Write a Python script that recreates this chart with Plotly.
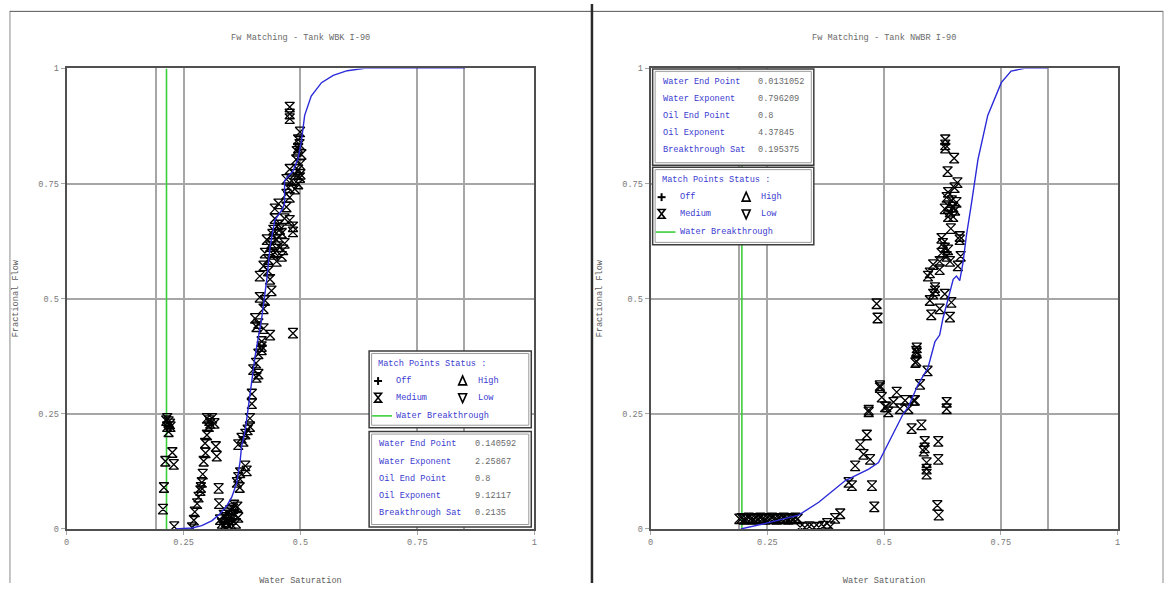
import plotly.graph_objects as go

W, H = 1168, 589

# ---------------- data: Tank WBK I-90 (left) ----------------
wbk_pts_sw = [0.215, 0.218, 0.215, 0.222, 0.218, 0.226, 0.211, 0.229, 0.208, 0.206, 0.230, 0.213, 0.221,
              0.268, 0.272, 0.274, 0.279, 0.282, 0.286, 0.289, 0.291, 0.293, 0.296, 0.300, 0.304, 0.300, 0.311,
              0.316, 0.307, 0.319, 0.321, 0.325, 0.326, 0.305, 0.297, 0.287,
              0.328, 0.332, 0.335, 0.338, 0.341, 0.344, 0.347, 0.350, 0.353, 0.356, 0.359, 0.362, 0.365, 0.367,
              0.340, 0.345, 0.352, 0.358, 0.336, 0.349,
              0.364, 0.367, 0.371, 0.382, 0.385, 0.367, 0.374, 0.382, 0.387, 0.392, 0.392, 0.396, 0.396, 0.406,
              0.399, 0.410, 0.417, 0.370, 0.378,
              0.477, 0.477, 0.477, 0.499, 0.495, 0.495, 0.502, 0.491, 0.499, 0.477, 0.488, 0.499, 0.470, 0.481,
              0.495, 0.474, 0.488, 0.470, 0.477, 0.453, 0.445, 0.470, 0.466, 0.477, 0.484, 0.484, 0.445, 0.453,
              0.442, 0.460, 0.428, 0.449, 0.466, 0.435, 0.453, 0.463, 0.424, 0.442, 0.460, 0.431, 0.449, 0.421,
              0.431, 0.413, 0.435, 0.438, 0.413, 0.424, 0.421, 0.403, 0.410, 0.406, 0.421, 0.435, 0.417, 0.417,
              0.484, 0.495, 0.500, 0.492, 0.498, 0.440, 0.456, 0.438, 0.445, 0.410, 0.405]
wbk_pts_fw = [0.240, 0.233, 0.222, 0.222, 0.211, 0.166, 0.147, 0.140, 0.090, 0.043, 0.005, 0.235, 0.228,
              0.003, 0.019, 0.037, 0.055, 0.069, 0.083, 0.101, 0.119, 0.147, 0.186, 0.204, 0.222, 0.240, 0.240,
              0.229, 0.229, 0.179, 0.158, 0.088, 0.055, 0.235, 0.165, 0.090,
              0.020, 0.012, 0.005, 0.025, 0.015, 0.035, 0.006, 0.040, 0.020, 0.044, 0.030, 0.012, 0.048, 0.025,
              0.003, 0.022, 0.010, 0.052, 0.030, 0.030,
              0.101, 0.112, 0.122, 0.137, 0.126, 0.183, 0.197, 0.206, 0.215, 0.222, 0.240, 0.272, 0.293, 0.329,
              0.346, 0.336, 0.389, 0.090, 0.190,
              0.916, 0.901, 0.891, 0.862, 0.845, 0.827, 0.813, 0.802, 0.791, 0.781, 0.770, 0.763, 0.759, 0.756,
              0.749, 0.741, 0.738, 0.727, 0.720, 0.706, 0.695, 0.699, 0.674, 0.670, 0.656, 0.645, 0.674, 0.660,
              0.649, 0.642, 0.628, 0.628, 0.620, 0.613, 0.613, 0.606, 0.599, 0.596, 0.592, 0.585, 0.581, 0.571,
              0.560, 0.549, 0.542, 0.517, 0.503, 0.496, 0.478, 0.457, 0.446, 0.439, 0.435, 0.421, 0.407, 0.396,
              0.425, 0.780, 0.770, 0.820, 0.835, 0.640, 0.650, 0.620, 0.600, 0.380, 0.360]
wbk_curve_sw = [0.233, 0.268, 0.289, 0.311, 0.328, 0.343, 0.353, 0.364, 0.371, 0.374, 0.382, 0.389, 0.396,
                0.403, 0.417, 0.428, 0.435, 0.445, 0.460, 0.466, 0.466, 0.466, 0.474, 0.484, 0.495, 0.502,
                0.509, 0.523, 0.545, 0.570, 0.600, 0.637, 0.852]
wbk_curve_fw = [0.000, 0.002, 0.007, 0.018, 0.033, 0.051, 0.069, 0.101, 0.147, 0.179, 0.215, 0.265, 0.314,
                0.375, 0.457, 0.542, 0.613, 0.670, 0.692, 0.706, 0.734, 0.756, 0.766, 0.777, 0.805, 0.842,
                0.898, 0.940, 0.969, 0.985, 0.995, 1.000, 1.000]
wbk_breakthrough = 0.2135
wbk_params = [("Water End Point", "0.140592"), ("Water Exponent", "2.25867"), ("Oil End Point", "0.8"),
              ("Oil Exponent", "9.12117"), ("Breakthrough Sat", "0.2135")]

# ---------------- data: Tank NWBR I-90 (right) ----------------
nwbr_pts_sw = [0.190, 0.195, 0.200, 0.205, 0.210, 0.215, 0.220, 0.225, 0.230, 0.235, 0.240, 0.245, 0.250,
               0.255, 0.260, 0.265, 0.270, 0.275, 0.280, 0.285, 0.290, 0.295, 0.300, 0.305, 0.310, 0.315,
               0.320, 0.330, 0.340, 0.350, 0.360, 0.370, 0.378, 0.385, 0.395, 0.406,
               0.424, 0.431, 0.438, 0.449, 0.456, 0.463, 0.467, 0.470, 0.474, 0.479, 0.491, 0.495, 0.502, 0.509,
               0.520, 0.527, 0.534, 0.545, 0.552, 0.559, 0.566, 0.569, 0.569, 0.484, 0.486, 0.505, 0.467, 0.491,
               0.563, 0.580, 0.587, 0.587, 0.585, 0.616, 0.616, 0.591, 0.591, 0.591, 0.614, 0.617, 0.634, 0.634,
               0.570, 0.570, 0.567, 0.593, 0.577,
               0.631, 0.631, 0.631, 0.650, 0.636, 0.657, 0.651, 0.637, 0.634, 0.645, 0.655, 0.637, 0.648, 0.630,
               0.641, 0.652, 0.637, 0.648, 0.643, 0.662, 0.662, 0.623, 0.626, 0.630, 0.637, 0.623, 0.634, 0.664,
               0.619, 0.641, 0.658, 0.605, 0.598, 0.619, 0.594, 0.609, 0.609, 0.605, 0.630, 0.598, 0.644, 0.619,
               0.601, 0.641]
nwbr_pts_fw = [0.022, 0.023, 0.021, 0.022, 0.024, 0.022, 0.021, 0.023, 0.022, 0.024, 0.022, 0.021, 0.023,
               0.022, 0.024, 0.022, 0.021, 0.023, 0.022, 0.024, 0.022, 0.021, 0.023, 0.022, 0.024, 0.022,
               0.004, 0.003, 0.005, 0.003, 0.004, 0.006, 0.012, 0.005, 0.023, 0.033,
               0.101, 0.094, 0.137, 0.183, 0.162, 0.204, 0.254, 0.151, 0.094, 0.048, 0.307, 0.286, 0.265, 0.254,
               0.275, 0.297, 0.261, 0.279, 0.261, 0.218, 0.279, 0.364, 0.386, 0.489, 0.458, 0.265, 0.258, 0.311,
               0.279, 0.226, 0.190, 0.176, 0.169, 0.190, 0.151, 0.144, 0.130, 0.119, 0.051, 0.030, 0.275, 0.261,
               0.393, 0.382, 0.361, 0.343, 0.314,
               0.845, 0.834, 0.827, 0.805, 0.776, 0.752, 0.741, 0.731, 0.720, 0.713, 0.709, 0.702, 0.699, 0.695,
               0.688, 0.692, 0.678, 0.678, 0.652, 0.635, 0.628, 0.631, 0.620, 0.610, 0.606, 0.599, 0.592, 0.592,
               0.581, 0.581, 0.571, 0.574, 0.556, 0.563, 0.549, 0.524, 0.517, 0.510, 0.510, 0.496, 0.492, 0.478,
               0.465, 0.460]
nwbr_curve_sw = [0.193, 0.246, 0.317, 0.360, 0.417, 0.467, 0.488, 0.516, 0.541, 0.552, 0.573, 0.594, 0.609,
                 0.619, 0.626, 0.637, 0.648, 0.655, 0.662, 0.669, 0.676, 0.687, 0.697, 0.701, 0.722, 0.751,
                 0.772, 0.800, 0.850]
nwbr_curve_fw = [0.000, 0.012, 0.030, 0.058, 0.105, 0.130, 0.144, 0.201, 0.250, 0.265, 0.314, 0.350, 0.407,
                 0.421, 0.457, 0.499, 0.542, 0.549, 0.539, 0.578, 0.635, 0.706, 0.777, 0.802, 0.898, 0.969,
                 0.994, 1.000, 1.000]
nwbr_breakthrough = 0.195375
nwbr_params = [("Water End Point", "0.0131052"), ("Water Exponent", "0.796209"), ("Oil End Point", "0.8"),
               ("Oil Exponent", "4.37845"), ("Breakthrough Sat", "0.195375")]

ticks = [0, 0.25, 0.5, 0.75, 1]
tick_text = ["0", "0.25", "0.5", "0.75", "1"]
limit_lines = [0.19, 0.85]

# ---------------- style ----------------
FONT = "Liberation Mono"
FS = 8.6
GRAY_TXT = "#7a7a7a"
BLUE_TXT = "#3a3ad0"
CURVE = "#2a2ad8"
GREEN = "#3ccf3c"
GRID = "#a6a6a6"
FRAME = "#505050"


def px(x, y):
    return x / W, 1 - y / H


fig = go.Figure()

for i, (sw, fw, csw, cfw, bt) in enumerate([
        (wbk_pts_sw, wbk_pts_fw, wbk_curve_sw, wbk_curve_fw, wbk_breakthrough),
        (nwbr_pts_sw, nwbr_pts_fw, nwbr_curve_sw, nwbr_curve_fw, nwbr_breakthrough)]):
    xa = "x" if i == 0 else "x2"
    ya = "y" if i == 0 else "y2"
    fig.add_trace(go.Scatter(x=[bt, bt], y=[0, 1], mode="lines", xaxis=xa, yaxis=ya,
                             line=dict(color=GREEN, width=1.6), hoverinfo="skip"))
    fig.add_trace(go.Scatter(x=sw, y=fw, mode="markers", xaxis=xa, yaxis=ya,
                             marker=dict(symbol="hourglass-open", size=9.5, color="black",
                                         line=dict(color="black", width=1.3))))
    fig.add_trace(go.Scatter(x=csw, y=cfw, mode="lines", xaxis=xa, yaxis=ya,
                             line=dict(color=CURVE, width=1.4)))

ydom = [(H - 534) / H, (H - 65.5) / H]
axis_common = dict(range=[0, 1], tickvals=ticks, ticktext=tick_text, showgrid=True, gridcolor=GRID,
                   gridwidth=1.5, zeroline=False, showline=True, mirror=True, linecolor=FRAME, linewidth=2,
                   ticks="outside", ticklen=4, tickcolor=GRID,
                   tickfont=dict(family=FONT, size=FS, color=GRAY_TXT),
                   minor=dict(tickvals=limit_lines, showgrid=True, gridcolor=GRID, gridwidth=1.5))
xcommon = dict(axis_common, title=dict(text="Water Saturation", standoff=30,
                                       font=dict(family=FONT, size=FS, color="#606060")))
ycommon = dict(axis_common, minor=dict(showgrid=False),
               title=dict(text="Fractional Flow", standoff=18, font=dict(family=FONT, size=FS, color="#606060")))

fig.update_layout(
    width=W, height=H, margin=dict(l=0, r=0, t=0, b=0),
    paper_bgcolor="white", plot_bgcolor="white", showlegend=False,
    xaxis=dict(xcommon, domain=[64 / W, 534 / W], anchor="y"),
    yaxis=dict(ycommon, domain=ydom, anchor="x"),
    xaxis2=dict(xcommon, domain=[651 / W, 1120.3 / W], anchor="y2"),
    yaxis2=dict(ycommon, domain=ydom, anchor="x2"),
)

shapes = []
annotations = []


def line(x0, y0, x1, y1, color, width):
    a, b = px(x0, y0)
    c, d = px(x1, y1)
    shapes.append(dict(type="line", xref="paper", yref="paper", x0=a, y0=b, x1=c, y1=d,
                       line=dict(color=color, width=width), layer="above"))


def box(x0, y0, x1, y1):
    a, b = px(x0, y0)
    c, d = px(x1, y1)
    shapes.append(dict(type="rect", xref="paper", yref="paper", x0=a, y0=b, x1=c, y1=d,
                       fillcolor="white", line=dict(color="#3c3c3c", width=1.5), layer="above"))
    a, b = px(x0 + 2.5, y0 + 2.5)
    c, d = px(x1 - 2.5, y1 - 2.5)
    shapes.append(dict(type="rect", xref="paper", yref="paper", x0=a, y0=b, x1=c, y1=d,
                       line=dict(color="#9a9a9a", width=1), layer="above"))


def path(points, close, color, width):
    s = ""
    for k, (x, y) in enumerate(points):
        a, b = px(x, y)
        s += ("M" if k == 0 else "L") + f"{a:.6f},{b:.6f} "
    if close:
        s += "Z"
    shapes.append(dict(type="path", xref="paper", yref="paper", path=s,
                       line=dict(color=color, width=width), layer="above"))


def text(x, y, t, color, anchor="left", size=FS):
    a, b = px(x, y)
    annotations.append(dict(x=a, y=b, xref="paper", yref="paper", text=t, showarrow=False,
                            xanchor=anchor, yanchor="middle",
                            font=dict(family=FONT, size=size, color=color)))


def legend_box(x0, y0, x1, y1):
    box(x0, y0, x1, y1)
    text(x0 + 7, y0 + 13, "Match Points Status :", BLUE_TXT)
    r1, r2, r3 = y0 + 30.5, y0 + 47.5, y0 + 66
    gx1 = x0 + 9
    gx2 = x0 + 94
    # plus
    path([(gx1 - 4, r1), (gx1 + 4, r1)], False, "black", 2)
    path([(gx1, r1 - 4), (gx1, r1 + 4)], False, "black", 2)
    text(x0 + 25, r1, "Off", BLUE_TXT)
    # triangle up
    path([(gx2 - 4, r1 + 4), (gx2 + 4, r1 + 4), (gx2, r1 - 5)], True, "black", 1.6)
    text(x0 + 107, r1, "High", BLUE_TXT)
    # hourglass
    path([(gx1 - 3.5, r2 - 4.5), (gx1 + 3.5, r2 - 4.5), (gx1 - 3.5, r2 + 4.5), (gx1 + 3.5, r2 + 4.5)],
         True, "black", 1.6)
    text(x0 + 25, r2, "Medium", BLUE_TXT)
    # triangle down
    path([(gx2 - 4, r2 - 4), (gx2 + 4, r2 - 4), (gx2, r2 + 5)], True, "black", 1.6)
    text(x0 + 107, r2, "Low", BLUE_TXT)
    line(x0 + 3, r3, x0 + 23, r3, GREEN, 1.6)
    text(x0 + 25, r3, "Water Breakthrough", BLUE_TXT)


def param_box(x0, y0, x1, y1, params):
    box(x0, y0, x1, y1)
    for k, (lab, val) in enumerate(params):
        yy = y0 + 13 + k * 17.5
        text(x0 + 8, yy, lab, BLUE_TXT)
        text(x0 + 104, yy, val, "#6a6a6a")


# panel frames
line(7, 7, 7, 589, "#8a8a8a", 1)
line(7, 7.5, 1166, 7.5, "#555555", 1)
line(592, 0, 592, 589, "#2a2a2a", 2.5)
line(1166, 7, 1166, 589, "#8a8a8a", 1)

# titles
text(299, 35, "Fw Matching - Tank WBK I-90", "#6a6a6a", anchor="center")
text(885.5, 35, "Fw Matching - Tank NWBR I-90", "#6a6a6a", anchor="center")

# left chart boxes
legend_box(368, 353, 531, 431)
param_box(368, 435, 531, 532, wbk_params)
# right chart boxes
param_box(653, 66, 815, 164, nwbr_params)
legend_box(653, 166, 815, 245)

fig.update_layout(shapes=shapes, annotations=annotations)
fig.write_html("out.html", config={"displayModeBar": False},
               post_script="document.body.style.margin='0px';document.body.style.overflow='hidden';")
